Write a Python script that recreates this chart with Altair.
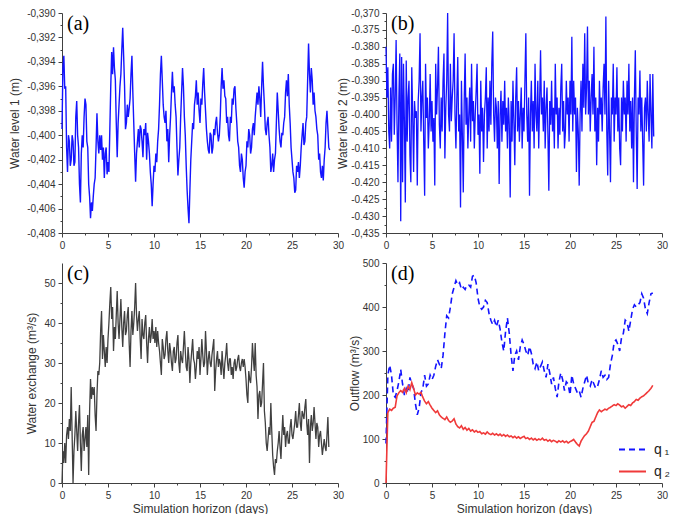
import altair as alt
import pandas as pd
import numpy as np

# ---------------- data ----------------
# (a) Water level 1 (m), sampled every 0.1 days
level1_step = 0.1
level1 = [
    -0.3995, -0.3945, -0.3935, -0.3962, -0.3960, -0.4010, -0.4030, -0.4000, -0.4005, -0.4025,
    -0.4020, -0.4000, -0.4005, -0.4025, -0.4022, -0.3985, -0.3972, -0.4000, -0.4010, -0.4040,
    -0.4055, -0.4015, -0.4000, -0.4010, -0.3985, -0.3970, -0.3975, -0.4005, -0.4010, -0.4040,
    -0.4050, -0.4068, -0.4055, -0.4062, -0.4050, -0.4040, -0.4035, -0.4010, -0.3982, -0.4005,
    -0.4015, -0.4000, -0.4012, -0.4000, -0.4020, -0.4010, -0.4035, -0.4015, -0.4010, -0.4032,
    -0.4022, -0.4030, -0.3995, -0.3960, -0.3932, -0.3950, -0.3928, -0.3945, -0.3955, -0.3990,
    -0.4018, -0.3990, -0.3975, -0.3960, -0.3950, -0.3930, -0.3912, -0.3935, -0.3960, -0.3995,
    -0.3990, -0.3975, -0.3985, -0.3978, -0.3970, -0.3950, -0.3935, -0.3965, -0.3990, -0.4015,
    -0.4038, -0.4015, -0.4005, -0.3995, -0.4010, -0.3992, -0.3995, -0.4005, -0.4018, -0.3995,
    -0.4000, -0.3990, -0.4020, -0.3998, -0.4005, -0.4015, -0.4030, -0.4040, -0.4058, -0.4040,
    -0.4025, -0.4030, -0.4015, -0.4022, -0.4005, -0.3995, -0.3975, -0.3950, -0.3935, -0.3955,
    -0.3975, -0.3985, -0.3990, -0.3980, -0.4005, -0.3995, -0.4022, -0.4000, -0.3985, -0.3965,
    -0.3948, -0.3965, -0.3960, -0.3975, -0.3985, -0.4010, -0.4033, -0.4020, -0.4010, -0.3985,
    -0.3965, -0.3945, -0.3960, -0.3985, -0.4000, -0.4025, -0.4045, -0.4060, -0.4072, -0.4045,
    -0.4020, -0.4005, -0.3990, -0.3995, -0.3975, -0.3968, -0.3955, -0.3975, -0.3965, -0.3980,
    -0.3990, -0.3970, -0.3975, -0.3958, -0.3945, -0.3965, -0.3980, -0.3995, -0.4005, -0.4012,
    -0.4015, -0.3998, -0.4000, -0.4015, -0.4010, -0.3995, -0.4000, -0.3990, -0.3985, -0.3998,
    -0.4005, -0.4000, -0.3985, -0.3960, -0.3945, -0.3962, -0.3955, -0.3968, -0.3970, -0.3990,
    -0.3985, -0.4000, -0.4005, -0.3985, -0.3990, -0.3970, -0.3975, -0.3962, -0.3960, -0.3978,
    -0.3990, -0.4005, -0.4010, -0.4025, -0.4030, -0.4015, -0.4020, -0.4035, -0.4043, -0.4030,
    -0.4025, -0.4005, -0.4010, -0.3995, -0.4000, -0.4015, -0.4010, -0.3995, -0.3990, -0.4000,
    -0.3985, -0.3975, -0.3965, -0.3975, -0.3960, -0.3970, -0.3985, -0.3960, -0.3940, -0.3960,
    -0.3975, -0.3995, -0.4000, -0.3990, -0.3985, -0.4000, -0.4010, -0.4030, -0.4025, -0.4015,
    -0.4030, -0.4020, -0.4015, -0.3990, -0.3965, -0.3980, -0.3995, -0.4005, -0.4010, -0.3998,
    -0.4000, -0.3990, -0.3985, -0.3965, -0.3955, -0.3968, -0.3950, -0.3975, -0.3990, -0.4010,
    -0.4020, -0.4030, -0.4035, -0.4047, -0.4045, -0.4025, -0.4030, -0.4022, -0.4035, -0.4025,
    -0.4010, -0.4000, -0.3990, -0.4008, -0.4005, -0.3990, -0.3985, -0.3955, -0.3925, -0.3950,
    -0.3965, -0.3945, -0.3955, -0.3975, -0.3965, -0.3980, -0.3985, -0.3995, -0.4000, -0.4020,
    -0.4015, -0.4030, -0.4035, -0.4025, -0.4037, -0.4020, -0.4010, -0.3990, -0.3980, -0.3995,
    -0.4010, -0.4012,
]

# (b) Water level 2 (m), sampled every 0.1 days
level2_step = 0.1
level2 = [
    -0.3800, -0.3950, -0.3860, -0.4050, -0.4100, -0.3920, -0.4080, -0.3880, -0.3850, -0.4060,
    -0.3950, -0.3780, -0.4030, -0.4200, -0.3950, -0.3820, -0.4315, -0.3830, -0.4200, -0.3850,
    -0.4020, -0.4260, -0.3840, -0.4080, -0.3950, -0.3900, -0.4120, -0.4200, -0.3860, -0.4000,
    -0.4170, -0.3960, -0.4010, -0.3990, -0.4210, -0.3960, -0.3900, -0.3760, -0.4050, -0.3950,
    -0.3900, -0.4080, -0.4240, -0.3850, -0.4010, -0.3950, -0.4100, -0.4020, -0.3880, -0.4050,
    -0.3960, -0.4080, -0.4010, -0.4210, -0.3850, -0.4000, -0.3920, -0.3800, -0.4030, -0.4100,
    -0.3950, -0.4050, -0.3900, -0.3820, -0.4130, -0.3980, -0.3900, -0.3700, -0.4000, -0.4050,
    -0.3850, -0.4020, -0.3950, -0.3900, -0.3760, -0.4000, -0.4100, -0.3950, -0.3830, -0.4050,
    -0.4000, -0.4275, -0.3900, -0.4060, -0.4230, -0.3960, -0.3820, -0.4030, -0.3950, -0.4100,
    -0.4000, -0.3920, -0.4080, -0.3850, -0.4020, -0.3960, -0.4100, -0.4000, -0.3930, -0.3850,
    -0.4060, -0.4000, -0.4175, -0.3900, -0.4050, -0.3980, -0.4140, -0.4000, -0.3950, -0.3860,
    -0.4100, -0.3950, -0.4050, -0.3900, -0.4030, -0.3850, -0.3755, -0.4000, -0.4080, -0.3950,
    -0.3980, -0.4100, -0.3960, -0.4205, -0.4000, -0.3930, -0.4080, -0.3960, -0.4030, -0.3900,
    -0.4050, -0.3980, -0.4100, -0.3950, -0.4030, -0.4245, -0.3960, -0.4080, -0.3900, -0.4020,
    -0.4150, -0.3950, -0.3860, -0.4050, -0.3960, -0.4080, -0.4000, -0.3920, -0.4100, -0.3980,
    -0.4050, -0.3900, -0.3760, -0.4000, -0.4080, -0.3950, -0.4240, -0.4000, -0.3900, -0.4050,
    -0.3960, -0.4100, -0.3850, -0.4000, -0.4050, -0.3900, -0.4100, -0.3960, -0.3810, -0.4000,
    -0.3950, -0.4050, -0.3900, -0.4100, -0.3980, -0.3920, -0.4060, -0.4225, -0.3960, -0.4030,
    -0.3900, -0.4050, -0.3980, -0.4100, -0.3850, -0.4000, -0.3950, -0.4100, -0.3980, -0.4060,
    -0.3920, -0.3850, -0.4050, -0.3960, -0.4100, -0.4050, -0.3900, -0.4000, -0.3950, -0.4080,
    -0.3900, -0.4000, -0.3770, -0.4050, -0.3900, -0.4000, -0.3950, -0.4170, -0.3980, -0.4050,
    -0.4210, -0.4000, -0.3900, -0.4050, -0.3850, -0.3980, -0.3760, -0.4000, -0.3920, -0.3740,
    -0.4000, -0.3900, -0.4050, -0.3950, -0.3880, -0.4000, -0.3800, -0.4050, -0.3950, -0.4150,
    -0.3980, -0.4080, -0.3900, -0.4000, -0.3950, -0.4050, -0.3920, -0.3850, -0.4000, -0.3710,
    -0.4050, -0.4180, -0.3900, -0.4050, -0.4200, -0.3950, -0.4000, -0.3850, -0.4080, -0.3950,
    -0.4000, -0.3860, -0.4050, -0.3950, -0.4100, -0.4150, -0.3950, -0.4050, -0.3900, -0.4000,
    -0.3950, -0.4080, -0.3900, -0.4000, -0.3850, -0.4050, -0.3960, -0.4100, -0.3950, -0.4200,
    -0.3950, -0.3810, -0.4050, -0.4220, -0.3950, -0.4000, -0.3870, -0.4050, -0.3950, -0.4080,
    -0.4210, -0.3980, -0.3950, -0.4050, -0.3900, -0.4000, -0.4080, -0.3880, -0.4000, -0.4100,
    -0.3880, -0.4065,
]

# (c) Water exchange (m3/s), sampled every 0.1 days
exch_step = 0.1
exch_vals = [
    0, 8, 5, 10, 5, 12, 14, 11, 16, 13,
    24, 12, 0, 8, 12, 18, 13, 8, 15, 19.5,
    10, 3, 12, 14, 8, 11, 14, 9, 17, 2,
    18, 26, 21, 24, 22, 24, 17, 13, 22, 28,
    27, 30, 38, 43, 31, 37, 33, 29, 34, 30,
    36, 40, 45, 49, 41, 44, 33, 39, 36, 42,
    48, 40, 36, 41, 46, 39, 34, 40, 43, 37,
    38, 42, 44, 35, 29, 38, 43, 37, 40, 44,
    50, 42, 38, 41, 43, 36, 31, 41, 37, 36,
    40, 42, 35, 30, 36, 39, 35, 37, 41, 36,
    38, 35, 39, 34, 38, 35, 33, 30, 27, 36,
    34, 31, 32, 36, 38, 33, 30, 35, 33, 30,
    28, 33, 34, 30, 31, 35, 37, 30, 27.5, 33,
    31, 30, 34, 38, 33, 29, 28, 34, 31, 25,
    30, 33, 36, 31, 30, 26, 29, 33, 31, 34,
    27, 31, 36, 32, 29, 30, 38, 33, 27, 31,
    33, 30, 29, 32, 34, 36, 23, 28, 31, 33,
    29, 31, 30, 27, 33, 29, 26, 30, 32, 35,
    30, 28, 31, 31, 27, 29, 26, 30, 31, 28,
    29, 31, 32, 29, 28, 30, 31, 29, 31, 29,
    26, 22, 20, 28, 26, 25, 29, 35, 31, 28,
    35, 27, 24, 16, 22, 23, 19, 20, 25, 30,
    18, 15, 10, 8, 11, 14, 12, 20, 13, 7,
    4, 2, 6, 5, 8, 10, 13, 9, 6, 12,
    17, 12, 14, 9, 12, 13, 10, 10, 14, 16,
    12, 11, 13, 15, 18, 14, 14, 17, 20, 15,
    13, 18, 17, 16, 19, 21, 15, 12, 16, 5,
    14, 17, 13, 15, 19, 15, 11, 15, 14, 9,
    12, 13, 10, 7, 9, 11, 9, 8, 12, 16.5,
    9,
]

# (d) Outflow (m3/s), sampled every 0.2 days
outflow_step = 0.2
q1 = [
    90, 245, 268, 245, 200, 195, 210, 230, 258, 225,
    200, 215, 205, 240, 225, 215, 180, 155, 170, 205,
    215, 245, 220, 225, 245, 235, 245, 265, 280, 270,
    260, 290, 340, 380, 375, 400, 430, 445, 460, 450,
    455, 440, 445, 440, 450, 450, 445, 470, 472, 455,
    420, 400, 395, 400, 415, 410, 385, 370, 360, 370,
    355, 370, 350, 320, 300, 345, 375, 340, 290, 255,
    290, 300, 280, 310, 325, 315, 300, 290, 310, 295,
    270, 260, 275, 255, 265, 275, 255, 240, 270, 250,
    225, 240, 215, 195, 230, 250, 235, 210, 230, 225,
    200, 245, 225, 215, 205, 210, 195, 215, 230, 245,
    225, 220, 235, 225, 215, 220, 235, 255, 240, 245,
    235, 240, 270, 290, 320, 325, 315, 300, 330, 340,
    370, 365, 345, 370, 395, 405, 400, 405, 410, 430,
    420, 395, 385, 410, 430, 432,
]
q2 = [
    0, 160, 168, 165, 170, 172, 198, 205, 210, 206,
    215, 205, 220, 212, 228, 215, 200, 205, 202, 206,
    195, 186, 180, 185, 177, 170, 165, 160, 164, 155,
    150, 147, 144, 150, 142, 138, 141, 146, 134, 128,
    125, 130, 122, 126, 120, 124, 118, 121, 116, 119,
    115, 117, 112, 114, 111, 116, 112, 110, 113, 109,
    112, 108, 111, 107, 110, 106, 109, 105, 107, 103,
    106, 102, 105, 101, 104, 106, 101, 103, 99, 102,
    98, 101, 97, 100, 98, 102, 97, 99, 95, 98,
    94, 97, 95, 92, 96, 93, 96, 92, 95, 91,
    94, 96, 99, 93, 88, 84, 95, 102, 108, 112,
    118, 128, 138, 140, 150, 160, 166, 162, 165, 168,
    166, 170, 172, 175, 178, 176, 180, 177, 173, 175,
    170, 174, 178, 176, 182, 185, 190, 188, 193, 196,
    198, 202, 206, 210, 215, 222,
]
series_names = ["q\u2009\u2081", "q\u2009\u2082"]

x_major = [0, 5, 10, 15, 20, 25, 30]
x_minor = [2.5, 7.5, 12.5, 17.5, 22.5, 27.5]
a_major = [-0.408, -0.406, -0.404, -0.402, -0.400, -0.398, -0.396, -0.394, -0.392, -0.390]
a_minor = [-0.407, -0.405, -0.403, -0.401, -0.399, -0.397, -0.395, -0.393, -0.391]
b_major = [-0.435, -0.430, -0.425, -0.420, -0.415, -0.410, -0.405, -0.400, -0.395,
           -0.390, -0.385, -0.380, -0.375, -0.370]
b_minor = [-0.4325, -0.4275, -0.4225, -0.4175, -0.4125, -0.4075, -0.4025, -0.3975,
           -0.3925, -0.3875, -0.3825, -0.3775, -0.3725]
c_major = [0, 10, 20, 30, 40, 50]
c_minor = [5, 15, 25, 35, 45]
d_major = [0, 100, 200, 300, 400, 500]
d_minor = [50, 150, 250, 350, 450]

# ---------------- tables ----------------
df_a = pd.DataFrame({"day": np.round(np.arange(len(level1)) * level1_step, 2), "val": level1})
df_b = pd.DataFrame({"day": np.round(np.arange(len(level2)) * level2_step, 2), "val": level2})
df_c = pd.DataFrame({"day": np.round(np.arange(len(exch_vals)) * exch_step, 2), "val": exch_vals})
d_days = np.round(np.arange(len(q1)) * outflow_step, 2)
df_d = pd.concat([
    pd.DataFrame({"day": d_days, "val": q1, "series": series_names[0]}),
    pd.DataFrame({"day": d_days, "val": q2, "series": series_names[1]}),
], ignore_index=True)

# ---------------- style ----------------
FONT = "Liberation Sans"
AXC = "#404040"
BLUE = "#1414ff"
RED = "#f03a3a"
GREY = "#404040"
W, H = 276, 220
COL_GAP, ROW_GAP = 48, 30

MINUS = "\u2212"
comma_expr = "replace(replace(format(datum.value, '.3f'), '.', ','), '" + MINUS + "', '-')"
dot_expr = "replace(format(datum.value, '.3f'), '" + MINUS + "', '-')"
b_expr = ("(datum.value == -0.37 || datum.value == -0.435) ? " + comma_expr + " : " + dot_expr)


def major_axis(values, orient, title=None, label_expr=None, title_padding=4):
    kw = dict(values=values, orient=orient, grid=False, tickSize=4, labelPadding=3,
              labelFlush=False, labelOverlap=False, titlePadding=title_padding, title=title)
    if label_expr is not None:
        kw["labelExpr"] = label_expr
    return alt.Axis(**kw)


def minor_axis(values, orient):
    return alt.Axis(values=values, orient=orient, labels=False, domain=False, grid=False,
                    tickSize=2, title=None)


def panel(df, ydom, y_major, y_minor, ytitle, xtitle, tag, mark_kw, label_expr=None,
          extra=None, ytp=5):
    xs = alt.Scale(domain=[0, 30], nice=False, zero=False)
    ys = alt.Scale(domain=ydom, nice=False, zero=False)
    enc = dict(
        x=alt.X("day:Q", scale=xs, axis=major_axis(x_major, "bottom", xtitle, title_padding=3)),
        y=alt.Y("val:Q", scale=ys, axis=major_axis(y_major, "left", ytitle, label_expr, ytp)),
    )
    if extra:
        enc.update(extra)
    main = alt.Chart(df).mark_line(**mark_kw).encode(**enc)
    minor = alt.Chart(df).mark_line(strokeOpacity=0).encode(
        x=alt.X("day:Q", scale=xs, axis=minor_axis(x_minor, "bottom")),
        y=alt.Y("val:Q", scale=ys, axis=minor_axis(y_minor, "left")),
    )
    label = alt.Chart(pd.DataFrame({"t": [tag]})).mark_text(
        font="Liberation Serif", fontSize=20, align="left", baseline="top", color="black"
    ).encode(text="t:N", x=alt.value(5), y=alt.value(1))
    return alt.layer(main, minor, label).resolve_axis(
        x="independent", y="independent").properties(width=W, height=H)


pa = panel(df_a, [-0.408, -0.390], a_major, a_minor, "Water level 1 (m)", None, "(a)",
           dict(color=BLUE, strokeWidth=1.4), comma_expr)
pb = panel(df_b, [-0.435, -0.370], b_major, b_minor, "Water level 2 (m)", None, "(b)",
           dict(color=BLUE, strokeWidth=1.3), b_expr, ytp=1)
pc = panel(df_c, [0, 55], c_major, c_minor, "Water exchange (m\u00b3/s)",
           "Simulation horizon (days)", "(c)", dict(color=GREY, strokeWidth=1.3))

# legend position is measured from the top-left corner of panel (a)'s plot area
leg = alt.Legend(orient="none", legendX=W + COL_GAP + 232, legendY=H + ROW_GAP + 172,
                 title=None, symbolType="stroke", symbolSize=729, symbolStrokeWidth=2,
                 labelFont=FONT, labelFontSize=14, labelColor="#222222", rowPadding=-11,
                 padding=0, labelOffset=7)
pdd = panel(df_d, [0, 500], d_major, d_minor, "Outflow (m\u00b3/s)",
            "Simulation horizon (days)", "(d)", dict(strokeWidth=1.6),
            extra=dict(
                color=alt.Color("series:N", scale=alt.Scale(domain=series_names, range=[BLUE, RED]),
                                legend=leg),
                strokeDash=alt.StrokeDash("series:N",
                                          scale=alt.Scale(domain=series_names, range=[[6, 4], [1, 0]]),
                                          legend=leg),
            ), ytp=1)

chart = alt.concat(pa, pb, pc, pdd, columns=2, spacing={"row": ROW_GAP, "column": COL_GAP},
                   bounds="flush").properties(padding=0, background="white")
chart = chart.configure_view(stroke=None).configure_axis(
    labelFont=FONT, titleFont=FONT, labelFontSize=10, titleFontSize=12,
    labelColor="#333333", titleColor="#333333", titleFontWeight="normal",
    domainColor=AXC, tickColor=AXC, domainWidth=1, tickWidth=1,
)

chart.save("out.html", embed_options={"renderer": "svg", "actions": False})
